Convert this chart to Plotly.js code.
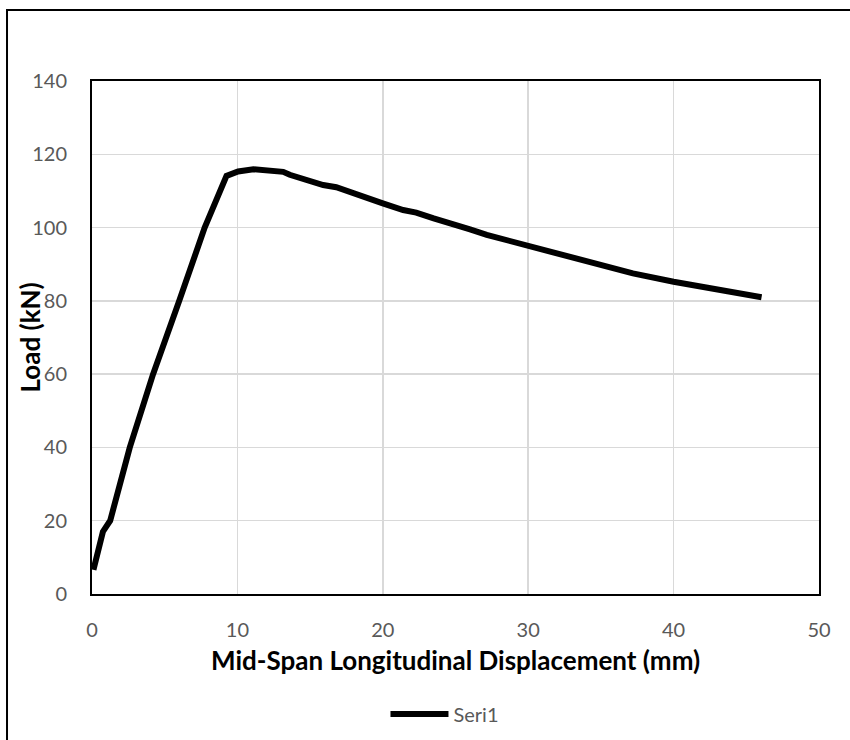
<!DOCTYPE html>
<html>
<head>
<meta charset="utf-8">
<script src="https://cdn.plot.ly/plotly-3.0.1.min.js"></script>
<style>
html,body{margin:0;padding:0;background:#fff;}
#chart{width:850px;height:740px;}
</style>
</head>
<body>
<div id="chart"></div>
<script>
// Mid-span longitudinal displacement (mm)
var displacement = [0.1, 0.3, 0.75, 1.0, 1.25, 2.6, 4.2, 6.0, 7.75, 9.25,
  10.05, 11.1, 12.2, 13.15, 13.6, 14.8, 15.9, 16.8, 18.0, 19.1, 20.0,
  21.4, 22.3, 23.5, 24.9, 26.0, 27.15, 28.3, 29.3, 30.1, 32.2, 34.5,
  37.2, 40.0, 43.0, 46.05];
// Load (kN)
var load = [6.6, 9.5, 17.0, 18.5, 20.0, 40.0, 60.0, 80.0, 100.0, 114.1,
  115.3, 115.9, 115.7, 115.2, 114.4, 113.0, 111.6, 111.0, 109.5, 108.0, 106.6,
  104.8, 104.1, 102.5, 101.0, 99.5, 98.0, 96.8, 95.7, 94.8, 92.5, 90.2,
  87.5, 85.2, 83.2, 81.0];
var seriesName = "Seri1";
var xTicks = [0, 10, 20, 30, 40, 50];
var yTicks = [0, 20, 40, 60, 80, 100, 120, 140];
var xTitle = "Mid-Span Longitudinal Displacement (mm)";
var yTitle = "Load (kN)";

var font = "Lato, 'Open Sans', sans-serif";

var trace = {
  x: displacement,
  y: load,
  type: "scatter",
  mode: "lines",
  name: seriesName,
  line: {color: "#000000", width: 6}
};

var titleFont = {family: font, size: 26, color: "#000000", weight: "bold"};

var layout = {
  width: 850,
  height: 740,
  margin: {l: 92, r: 31, t: 81, b: 146, autoexpand: false},
  paper_bgcolor: "#ffffff",
  plot_bgcolor: "#ffffff",
  font: {family: font, color: "#595959", size: 20},
  showlegend: true,
  legend: {
    orientation: "h",
    xref: "container", yref: "container",
    x: 0.5235, xanchor: "center",
    y: 0.035, yanchor: "middle",
    itemwidth: 58,
    font: {family: font, size: 20, color: "#595959"}
  },
  xaxis: {
    range: [0, 50],
    tickvals: xTicks,
    ticktext: xTicks.map(String),
    showgrid: true,
    gridcolor: "#d9d9d9",
    gridwidth: 1.5,
    zeroline: false,
    showline: true,
    linecolor: "#000000",
    linewidth: 2,
    mirror: true,
    ticks: "",
    ticklabelstandoff: 17,
    tickfont: {family: font, size: 20, color: "#595959"}
  },
  yaxis: {
    range: [0, 140],
    tickvals: yTicks,
    ticktext: yTicks.map(String),
    showgrid: true,
    gridcolor: "#d9d9d9",
    gridwidth: 1.5,
    zeroline: false,
    showline: true,
    linecolor: "#000000",
    linewidth: 2,
    mirror: true,
    ticks: "",
    ticklabelstandoff: 19,
    tickfont: {family: font, size: 20, color: "#595959"}
  },
  annotations: [
    {
      text: xTitle,
      xref: "paper", yref: "paper",
      x: 0.5, y: -0.1287,
      xanchor: "center", yanchor: "middle",
      showarrow: false,
      font: titleFont
    },
    {
      text: yTitle,
      xref: "paper", yref: "paper",
      x: -0.0853, y: 0.5,
      xanchor: "center", yanchor: "middle",
      textangle: -90,
      showarrow: false,
      font: titleFont
    }
  ],
  shapes: [{
    type: "rect",
    xref: "paper", yref: "paper",
    x0: -0.1169, x1: 1.06,
    y0: -0.32, y1: 1.1384,
    line: {color: "#000000", width: 2},
    fillcolor: "rgba(0,0,0,0)",
    layer: "below"
  }]
};

Plotly.newPlot("chart", [trace], layout, {displayModeBar: false, staticPlot: true});
</script>
</body>
</html>
